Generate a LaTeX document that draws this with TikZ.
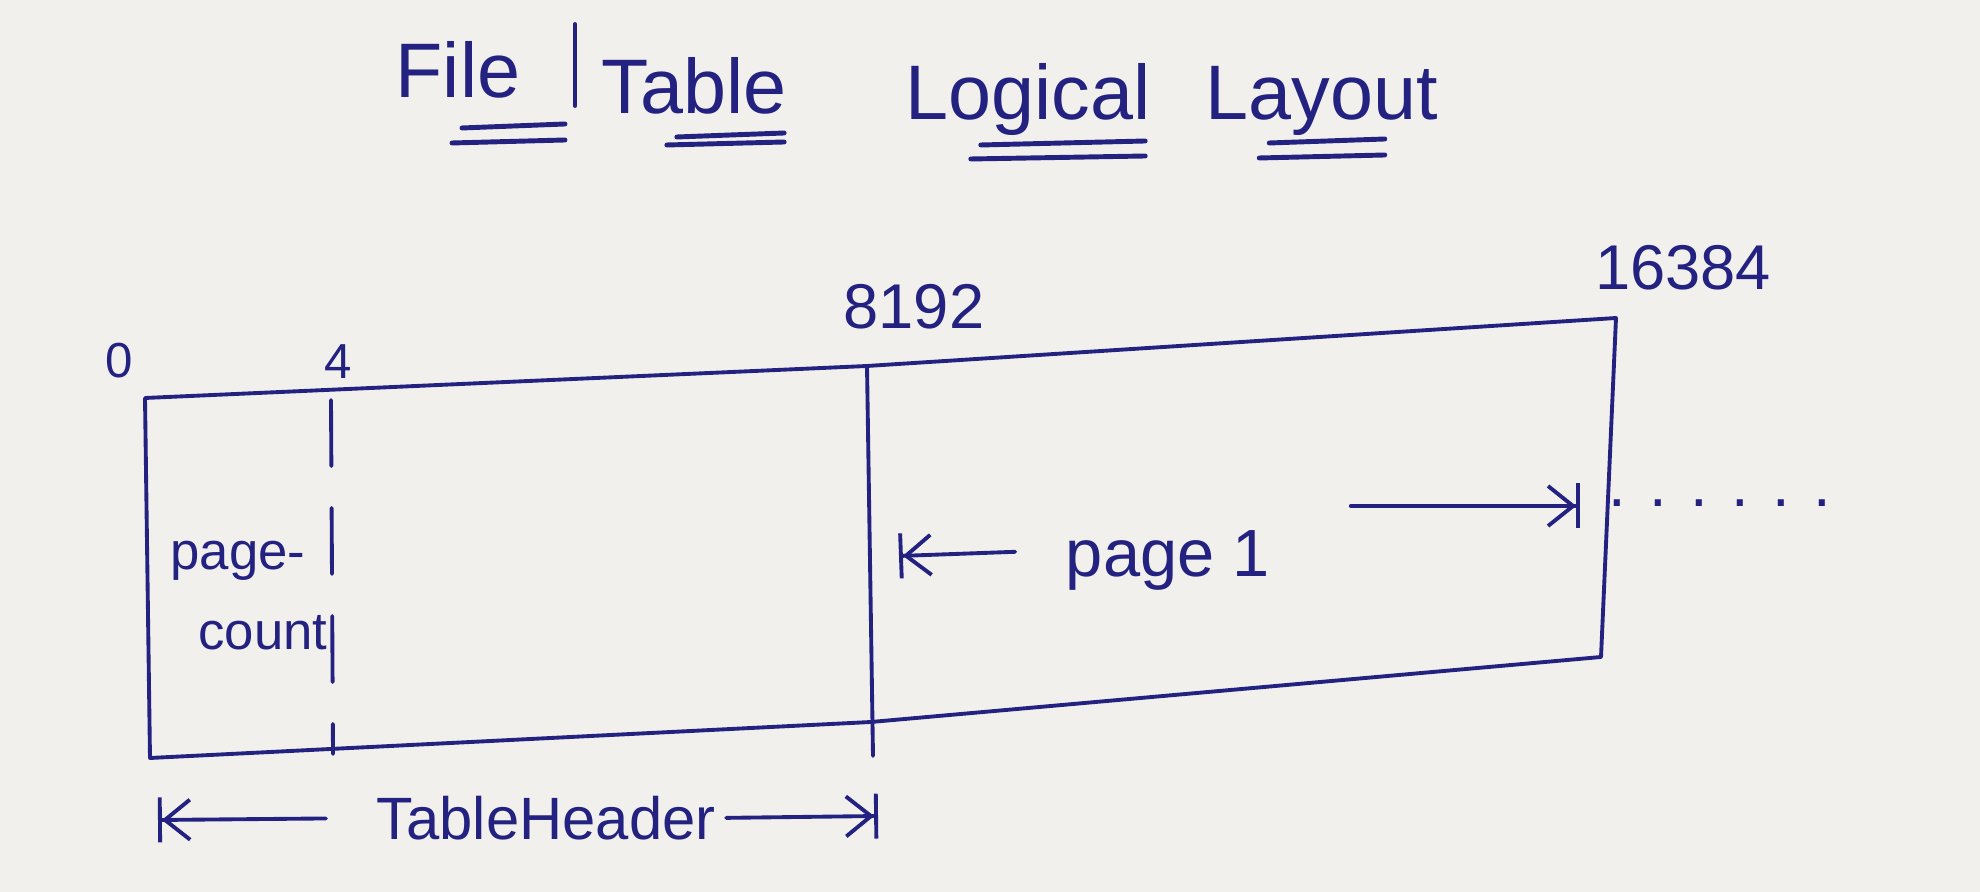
\documentclass[tikz,border=0pt]{standalone}
\usepackage{fontspec}
\setmainfont{Liberation Sans}
\usetikzlibrary{arrows.meta}
\definecolor{ink}{RGB}{36,34,128}
\definecolor{paper}{RGB}{241,240,237}
\tikzset{
	pen/.style={draw=ink, line width=1.1pt, line cap=round, line join=round},
	ttl/.style={text=ink, font=\fontsize{22}{26}\selectfont, anchor=base, inner sep=0pt},
	num/.style={text=ink, font=\fontsize{18}{22}\selectfont, inner sep=0pt},
	lbl/.style={text=ink, font=\fontsize{17}{20}\selectfont, inner sep=0pt},
	sml/.style={text=ink, font=\fontsize{15}{18}\selectfont, inner sep=0pt, anchor=base},
	uline/.style={pen, line width=1.4pt},
	span/.style={pen, -{Straight Barb[length=2.5mm,width=4mm]Bar[width=4.5mm]}},
}
\begin{document}
\begin{tikzpicture}
	\fill[paper] (0,0) rectangle (19.8,8.92);
	\useasboundingbox (0,0) rectangle (19.8,8.92);
	\path (4.58,7.94) node[ttl] (tFile) {File}
	(6.94,7.78) node[ttl] (tTable) {Table}
	(10.28,7.72) node[ttl] (tLogical) {Logical}
	(13.22,7.72) node[ttl] (tLayout) {Layout};
	\draw[pen] (5.75,8.68) -- (5.75,7.86);
	\foreach \w/\a/\b/\c/\d in {tFile/5.7/4.4/-3.0/-4.5, tTable/6.6/-0.3/-2.3/-3.1, tLogical/6.6/-0.6/-2.5/-3.9, tLayout/5.4/-5.4/-2.3/-3.8}
		\draw[uline] ([xshift=\a mm+1mm,yshift=\c mm]\w.base west) -- ([xshift=\b mm,yshift=\c mm+0.4mm]\w.base east)
		([xshift=\a mm,yshift=\d mm]\w.base west) -- ([xshift=\b mm,yshift=\d mm+0.3mm]\w.base east);
	\path (1.45,4.94) coordinate (TL)
	++ (7.22,0.32) coordinate (TM)
	++ (7.49,0.48) coordinate (TR)
	++ (-0.15,-3.39) coordinate (BR)
	++ (-7.30,-0.65) coordinate (BM)
	++ (-7.21,-0.36) coordinate (BL);
	\draw[pen] (TL) -- (TM) -- (TR) -- (BR) -- (BM) -- (BL) -- cycle;
	\draw[pen] (TM) -- ++(0.06,-3.9);
	\draw[pen, dash pattern=on 6.6mm off 4.2mm] (3.31,4.92) -- (3.33,1.38);
	\node[num, font=\fontsize{14}{17}\selectfont] (n0) at (1.19,5.31) {0};
	\node[num, font=\fontsize{14}{17}\selectfont] (n4) at (3.38,5.30) {4};
	\node[num] (n8192) at (9.14,5.85) {8192};
	\node[num] (n16384) at (16.83,6.24) {16384};
	\node[sml] (pgA) at (2.38,3.22) {page-};
	\node[sml] (pgB) at (2.63,2.42) {count};
	\node[lbl, font=\fontsize{19}{22}\selectfont] (pg1) at (11.68,3.32) {page 1};
	\coordinate (pg1L) at (8.99,3.36);
	\coordinate (pg1R) at (15.80,3.86);
	\draw[span, shorten <=5mm] ([yshift=1mm]pg1.west) -- (pg1L);
	\draw[span, shorten <=8mm] (pg1.east |- pg1R) -- (pg1R);
	\node[num, anchor=base] (more) at (17.2,3.85) {. . . . . .};
	\node[lbl] (th) at (5.46,0.74) {TableHeader};
	\coordinate (thL) at (1.58,0.72);
	\coordinate (thR) at (8.78,0.76);
	\draw[span, shorten <=5mm] (th.west) -- (thL);
	\draw[span, shorten <=1mm] (th.east) -- (thR);
\end{tikzpicture}
\end{document}
